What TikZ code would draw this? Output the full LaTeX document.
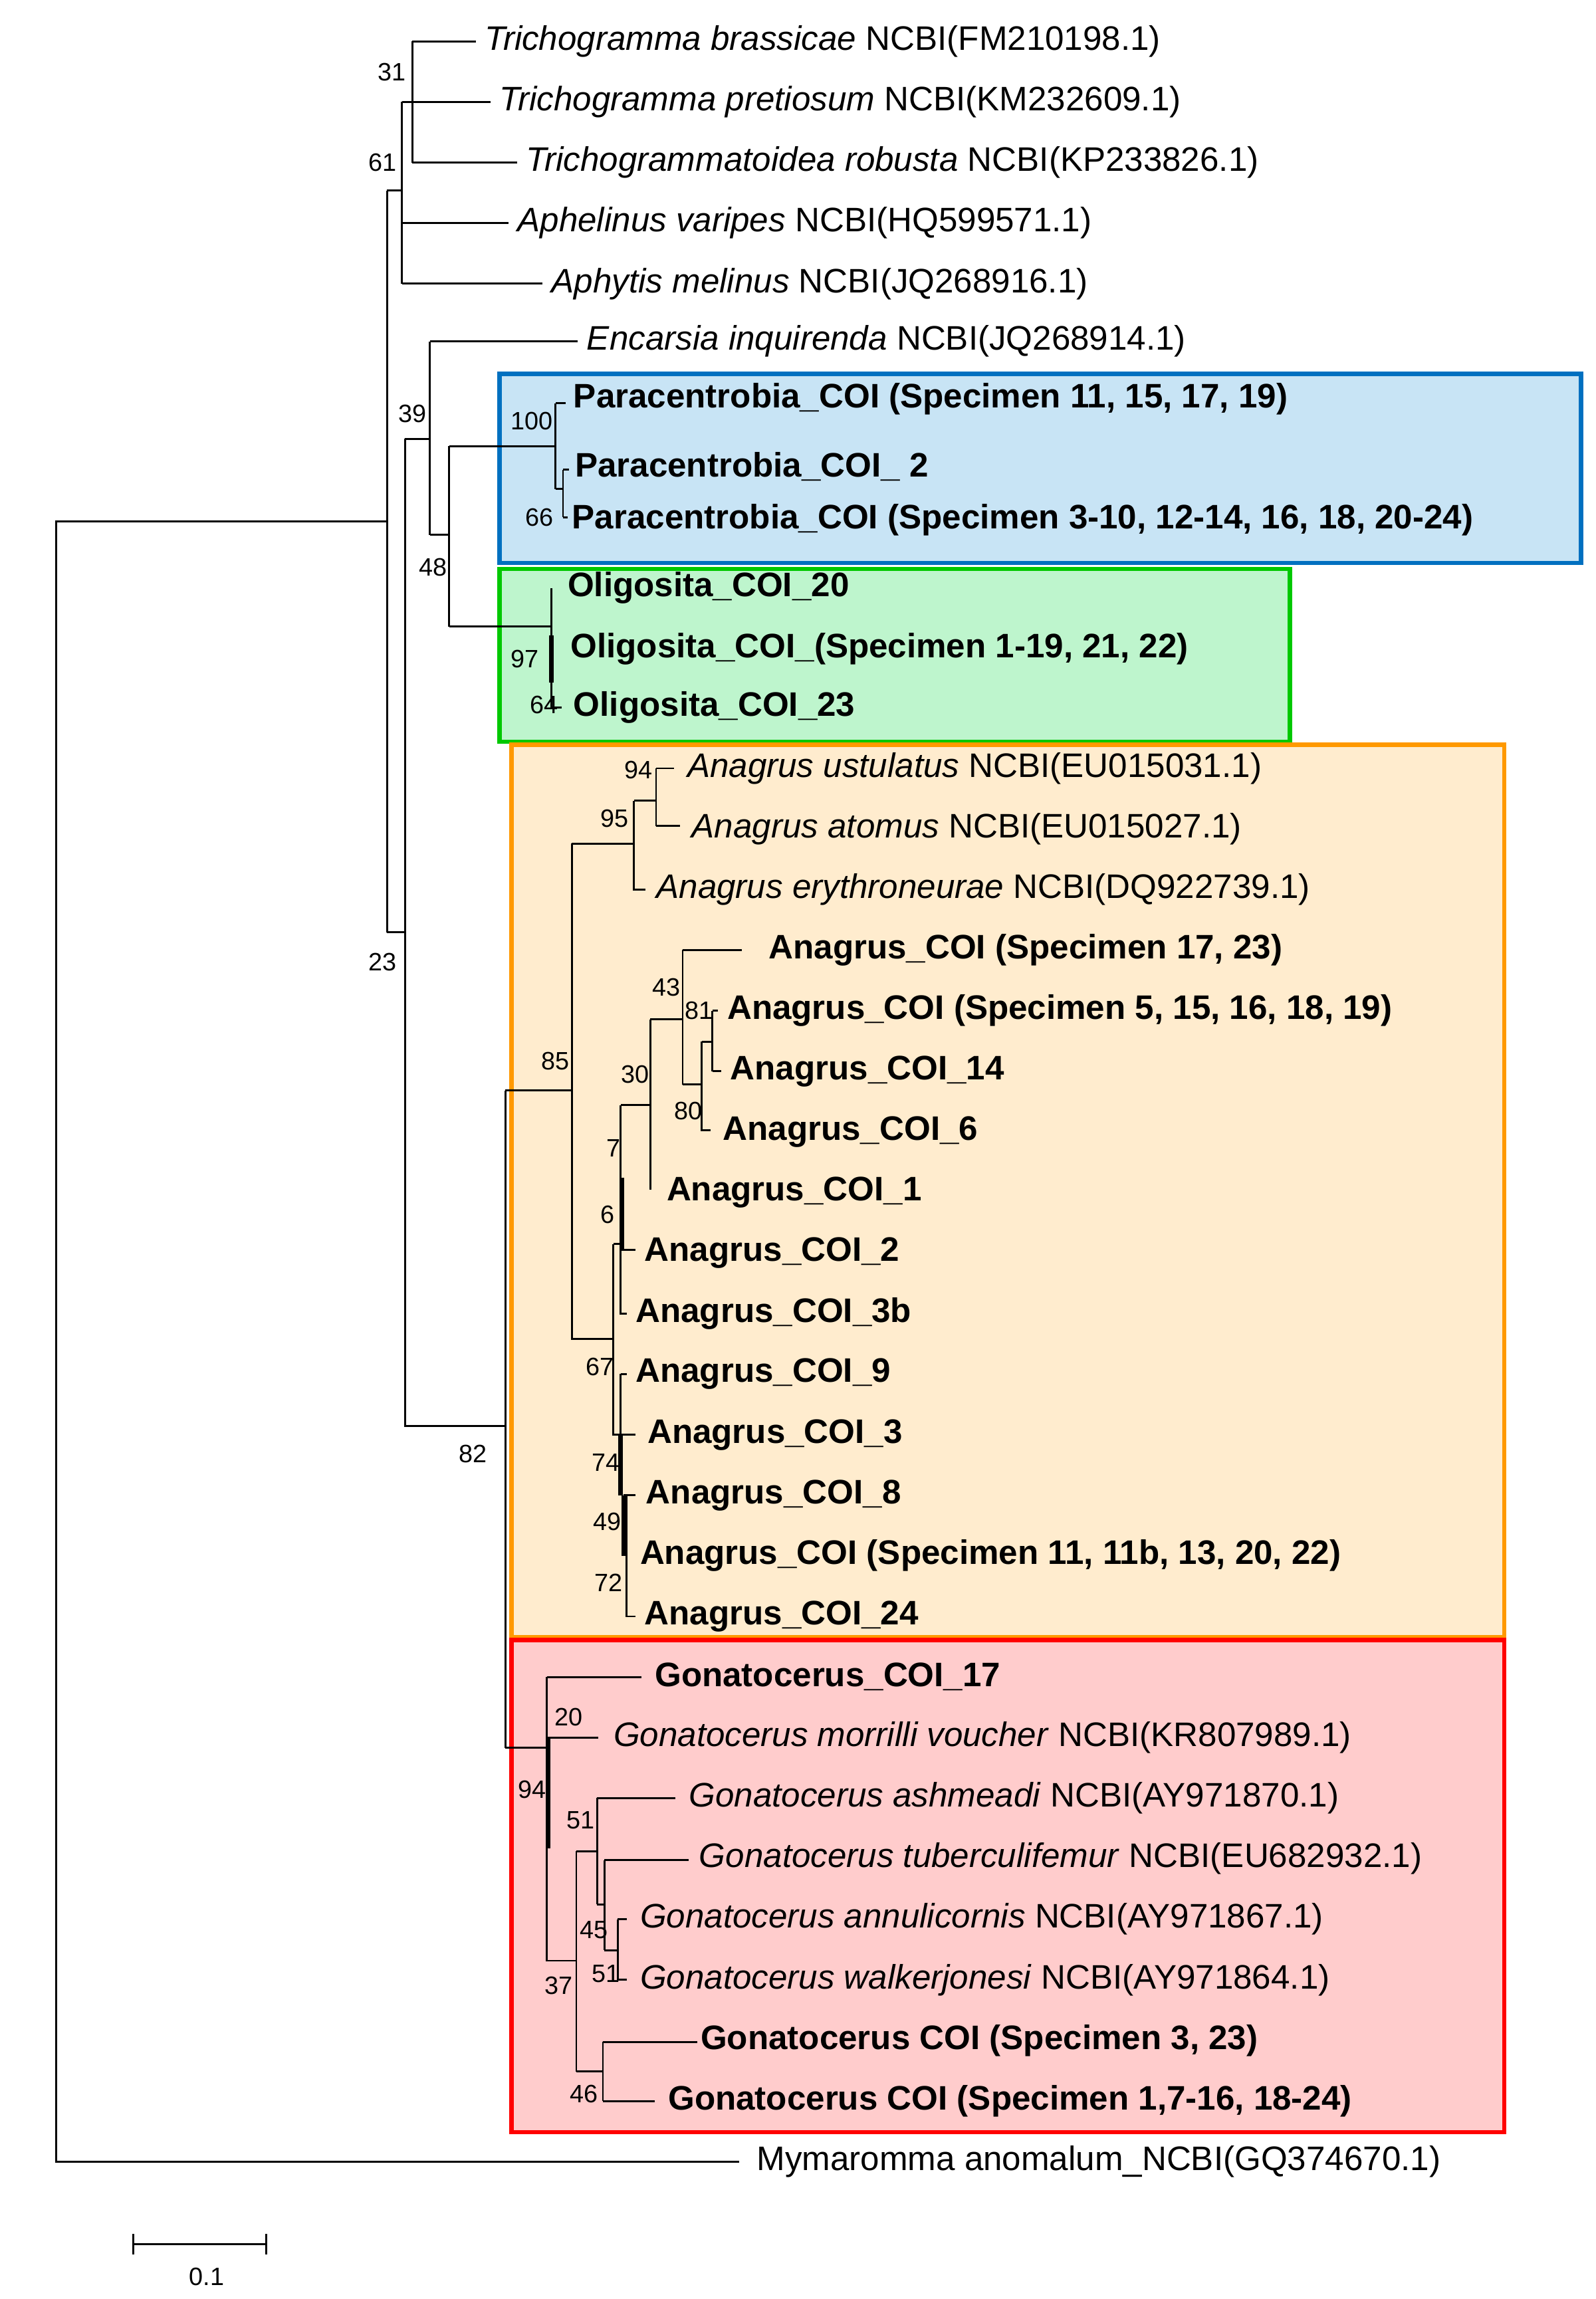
\documentclass[tikz,border=0pt]{standalone}
\usepackage{fontspec}
\setmainfont{Liberation Sans}
\begin{document}
\begin{tikzpicture}[x=1pt,y=-1pt,
  br/.style={line width=1.3pt},
  lf/.style={anchor=west,inner sep=0pt,font=\fontsize{23}{26}\selectfont},
  bs/.style={inner sep=0pt,font=\fontsize{17}{19}\selectfont},
  box/.style={line width=3pt}]
\useasboundingbox (0,0) rectangle (1080,1556);
% boxes
\definecolor{bluS}{RGB}{0,112,192}\definecolor{bluF}{RGB}{200,228,245}
\definecolor{grnS}{RGB}{0,200,0}\definecolor{grnF}{RGB}{190,245,205}
\definecolor{orS}{RGB}{255,153,0}\definecolor{orF}{RGB}{255,236,206}
\definecolor{rdS}{RGB}{255,0,0}\definecolor{rdF}{RGB}{255,204,204}
\draw[box,draw=bluS,fill=bluF] (338,253) rectangle (1070,381);
\draw[box,draw=grnS,fill=grnF] (338,385) rectangle (873,502);
\draw[box,draw=orS,fill=orF] (346,504) rectangle (1018,1108);
\draw[box,draw=rdS,fill=rdF] (346,1110) rectangle (1018,1443);
% leaves
\node[lf] (l1) at (328,28) {\textit{Trichogramma brassicae} NCBI(FM210198.1)};
\node[lf] (l2) at (338,69) {\textit{Trichogramma pretiosum} NCBI(KM232609.1)};
\node[lf] (l3) at (356,110) {\textit{Trichogrammatoidea robusta} NCBI(KP233826.1)};
\node[lf] (l4) at (350,151) {\textit{Aphelinus varipes} NCBI(HQ599571.1)};
\node[lf] (l5) at (373,192) {\textit{Aphytis melinus} NCBI(JQ268916.1)};
\node[lf] (l6) at (397,231) {\textit{Encarsia inquirenda} NCBI(JQ268914.1)};
\node[lf] (l7) at (388,270) {\textbf{Paracentrobia\_COI (Specimen 11, 15, 17, 19)}};
\node[lf] (l8) at (389,316) {\textbf{Paracentrobia\_COI\_ 2}};
\node[lf] (l9) at (387,352) {\textbf{Paracentrobia\_COI (Specimen 3-10, 12-14, 16, 18, 20-24)}};
\node[lf] (l10) at (384,398) {\textbf{Oligosita\_COI\_20}};
\node[lf] (l11) at (386,439) {\textbf{Oligosita\_COI\_(Specimen 1-19, 21, 22)}};
\node[lf] (l12) at (388,479) {\textbf{Oligosita\_COI\_23}};
\node[lf] (l13) at (465,520) {\textit{Anagrus ustulatus} NCBI(EU015031.1)};
\node[lf] (l14) at (468,561) {\textit{Anagrus atomus} NCBI(EU015027.1)};
\node[lf] (l15) at (444,602) {\textit{Anagrus erythroneurae} NCBI(DQ922739.1)};
\node[lf] (l16) at (520,643) {\textbf{Anagrus\_COI (Specimen 17, 23)}};
\node[lf] (l17) at (492,684) {\textbf{Anagrus\_COI (Specimen 5, 15, 16, 18, 19)}};
\node[lf] (l18) at (494,725) {\textbf{Anagrus\_COI\_14}};
\node[lf] (l19) at (489,766) {\textbf{Anagrus\_COI\_6}};
\node[lf] (l20) at (451,807) {\textbf{Anagrus\_COI\_1}};
\node[lf] (l21) at (436,848) {\textbf{Anagrus\_COI\_2}};
\node[lf] (l22) at (430,889) {\textbf{Anagrus\_COI\_3b}};
\node[lf] (l23) at (430,930) {\textbf{Anagrus\_COI\_9}};
\node[lf] (l24) at (438,971) {\textbf{Anagrus\_COI\_3}};
\node[lf] (l25) at (437,1012) {\textbf{Anagrus\_COI\_8}};
\node[lf] (l26) at (433,1053) {\textbf{Anagrus\_COI (Specimen 11, 11b, 13, 20, 22)}};
\node[lf] (l27) at (436,1094) {\textbf{Anagrus\_COI\_24}};
\node[lf] (l28) at (443,1135) {\textbf{Gonatocerus\_COI\_17}};
\node[lf] (l29) at (415,1176) {\textit{Gonatocerus morrilli voucher} NCBI(KR807989.1)};
\node[lf] (l30) at (466,1217) {\textit{Gonatocerus ashmeadi} NCBI(AY971870.1)};
\node[lf] (l31) at (473,1258) {\textit{Gonatocerus tuberculifemur} NCBI(EU682932.1)};
\node[lf] (l32) at (433,1299) {\textit{Gonatocerus annulicornis} NCBI(AY971867.1)};
\node[lf] (l33) at (433,1340) {\textit{Gonatocerus walkerjonesi} NCBI(AY971864.1)};
\node[lf] (l34) at (474,1381) {\textbf{Gonatocerus COI (Specimen 3, 23)}};
\node[lf] (l35) at (452,1422) {\textbf{Gonatocerus COI (Specimen 1,7-16, 18-24)}};
\node[lf] (l36) at (512,1463) {Mymaromma anomalum\_NCBI(GQ374670.1)};
% tree
\begin{scope}[br]
% root
\draw (262,353) -| (38,1463) -- (500,1463);
\draw (262,129) -- (262,631);
\draw (262,129) -- (272,129);
% top clade
\draw (272,69) -- (272,192);
\draw (279,28) -- (279,110);
\draw (279,28) -- (322,28);
\draw (272,69) -- (332,69);
\draw (279,110) -- (350,110);
\draw (272,151) -- (344,151);
\draw (272,192) -- (367,192);
% 23 node to 274
\draw (262,631) -- (274,631);
\draw (274,297) -- (274,965) -- (342,965);
\draw (274,297) -- (291,297);
\draw (291,231) -- (291,362);
\draw (291,231) -- (391,231);
\draw (291,362) -- (304,362);
\draw (304,302) -- (304,424);
\draw (304,302) -- (376,302);
\draw (376,273) -- (376,331);
\draw (376,273) -- (383,273);
\draw (376,331) -- (381,331);
\draw (381,318) -- (381,350);
\draw (381,318) -- (385,318);
\draw (381,350) -- (384,350);
\draw (304,424) -- (373,424);
\draw (373,398) -- (373,479);
\draw[line width=3pt] (373,430) -- (373,462);
\draw (373,479) -- (380,479);
% Mymaridae
\draw (342,738) -- (342,1183);
\draw (342,738) -- (387,738);
\draw (387,571) -- (387,906) -- (415,906);
\draw (387,571) -- (429,571);
\draw (429,542) -- (429,602) -- (437,602);
\draw (429,542) -- (444,542);
\draw (444,520) -- (444,559);
\draw (444,520) -- (456,520);
\draw (444,559) -- (460,559);
% lower Anagrus
\draw (415,842) -- (415,971) -- (430,971);
\draw (415,842) -- (420,842);
\draw (420,748) -- (420,889) -- (424,889);
\draw[line width=3pt] (421,797) -- (421,846);
\draw (420,846) -- (430,846);
\draw (420,748) -- (440,748);
\draw (440,690) -- (440,805);
\draw (440,690) -- (462,690);
\draw (462,643) -- (462,734);
\draw (462,643) -- (502,643);
\draw (462,734) -- (475,734);
\draw (475,705) -- (475,765) -- (481,765);
\draw (475,705) -- (482,705);
\draw (482,684) -- (482,725);
\draw (482,684) -- (486,684);
\draw (482,725) -- (488,725);
\draw (420,930) -- (420,1012);
\draw[line width=3pt] (420,971) -- (420,1012);
\draw (420,930) -- (424,930);
\draw[line width=3pt] (422,1012) -- (422,1053);
\draw (424,1012) -- (424,1094) -- (430,1094);
\draw (422,1012) -- (430,1012);
% Gonatocerus
\draw (342,1183) -- (370,1183);
\draw (370,1135) -- (370,1327) -- (390,1327);
\draw[line width=3pt] (371,1176) -- (371,1251);
\draw (370,1135) -- (434,1135);
\draw (370,1176) -- (405,1176);
\draw (390,1253) -- (390,1402);
\draw (390,1253) -- (404,1253);
\draw (404,1217) -- (404,1289);
\draw (404,1217) -- (457,1217);
\draw (404,1289) -- (409,1289);
\draw (409,1259) -- (409,1320);
\draw (409,1259) -- (466,1259);
\draw (409,1320) -- (418,1320);
\draw (418,1299) -- (418,1340);
\draw (418,1299) -- (424,1299);
\draw (418,1340) -- (424,1340);
\draw (390,1402) -- (408,1402);
\draw (408,1382) -- (408,1422);
\draw (408,1382) -- (472,1382);
\draw (408,1422) -- (443,1422);
% scale bar
\draw (90,1519) -- (180,1519);
\draw (90,1512) -- (90,1526);
\draw (180,1512) -- (180,1526);
\end{scope}
\node[bs] (sc) at (140,1541) {0.1};
% bootstrap
\foreach \t/\x/\y in {31/265/49,61/259/110,39/279/280,48/293/384,100/360/285,66/365/350,97/355/446,64/368/477,94/432/521,95/416/554,43/451/668,81/473/684,30/430/727,80/466/752,85/376/718,7/415/777,6/411/822,67/406/925,74/410/990,49/411/1030,72/412/1071,23/259/651,82/320/984,20/385/1162,94/360/1211,51/393/1232,45/402/1306,51/410/1336,37/378/1344,46/395/1417}
  \node[bs] at (\x,\y) {\t};
\end{tikzpicture}
\end{document}
